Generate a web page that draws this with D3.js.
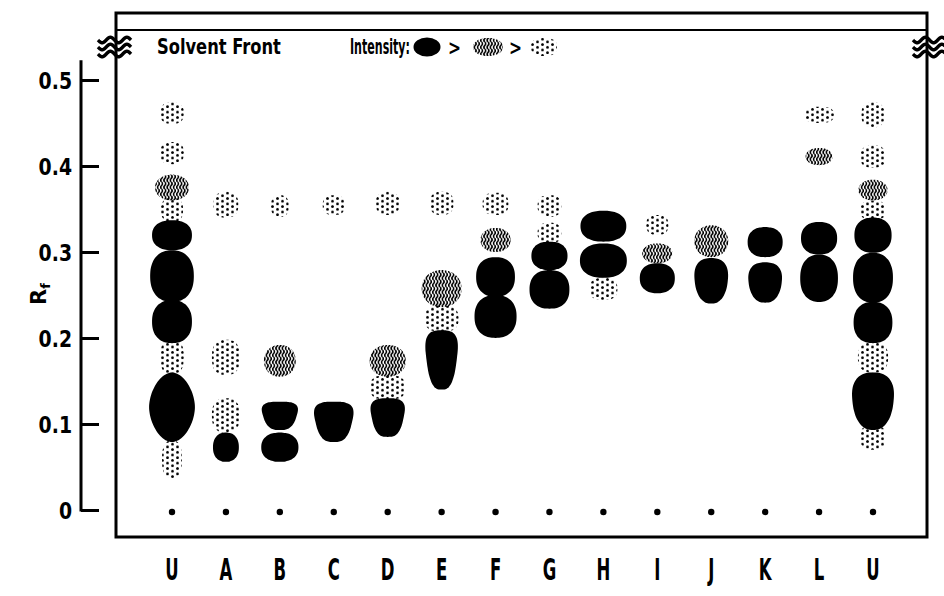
<!DOCTYPE html>
<html>
<head>
<meta charset="utf-8">
<script src="https://cdn.jsdelivr.net/npm/d3@7"></script>
<style>
body { margin: 0; background: #fff; }
text { font-family: "DejaVu Sans", "Liberation Sans", sans-serif; font-weight: bold; fill: #000; }
</style>
</head>
<body>
<svg id="chart" width="944" height="596"></svg>
<script>
// lanes on the plate (U = reference, run on both edges)
const lanes = ["U", "A", "B", "C", "D", "E", "F", "G", "H", "I", "J", "K", "L", "U"];
const yTicks = [0, 0.1, 0.2, 0.3, 0.4, 0.5];

// [lane index, Rf top, Rf bottom, spot breadth in lane widths]
const dottedSpots = [
    [0, 0.474, 0.449, 0.44], [0, 0.428, 0.402, 0.44], [0, 0.363, 0.335, 0.41], [0, 0.198, 0.158, 0.44], [0, 0.081, 0.037, 0.37],
    [1, 0.370, 0.340, 0.46], [1, 0.198, 0.157, 0.52], [1, 0.130, 0.090, 0.52],
    [2, 0.366, 0.341, 0.33],
    [3, 0.366, 0.343, 0.41],
    [4, 0.370, 0.343, 0.44], [4, 0.157, 0.128, 0.67],
    [5, 0.370, 0.343, 0.44], [5, 0.238, 0.207, 0.63],
    [6, 0.369, 0.343, 0.48],
    [7, 0.366, 0.341, 0.44], [7, 0.334, 0.310, 0.44],
    [8, 0.270, 0.244, 0.52],
    [9, 0.343, 0.320, 0.41],
    [12, 0.469, 0.450, 0.56],
    [13, 0.474, 0.445, 0.43], [13, 0.424, 0.398, 0.48], [13, 0.360, 0.337, 0.48], [13, 0.195, 0.160, 0.56], [13, 0.099, 0.070, 0.48]
];

const hatchedSpots = [
    [0, 0.390, 0.360, 0.63],
    [2, 0.192, 0.155, 0.59],
    [4, 0.192, 0.155, 0.67],
    [5, 0.279, 0.236, 0.74],
    [6, 0.328, 0.300, 0.56],
    [9, 0.310, 0.287, 0.56],
    [10, 0.331, 0.294, 0.63],
    [12, 0.421, 0.401, 0.50],
    [13, 0.384, 0.360, 0.54]
];

// last field: outline type
const solidSpots = [
    [0, 0.337, 0.302, 0.74, "round"], [0, 0.302, 0.242, 0.81, "round"], [0, 0.244, 0.194, 0.74, "round"], [0, 0.160, 0.079, 0.85, "egg"],
    [1, 0.090, 0.056, 0.48, "round"],
    [2, 0.126, 0.093, 0.78, "flat"], [2, 0.090, 0.056, 0.69, "round"],
    [3, 0.126, 0.079, 0.85, "flat"],
    [4, 0.130, 0.085, 0.74, "flat"],
    [5, 0.209, 0.140, 0.70, "flat"],
    [6, 0.294, 0.248, 0.72, "round"], [6, 0.250, 0.200, 0.78, "round"],
    [7, 0.312, 0.279, 0.67, "round"], [7, 0.279, 0.234, 0.74, "round"],
    [8, 0.348, 0.312, 0.85, "round"], [8, 0.310, 0.270, 0.87, "round"],
    [9, 0.287, 0.252, 0.65, "round"],
    [10, 0.293, 0.240, 0.70, "soft"],
    [11, 0.329, 0.294, 0.65, "round"], [11, 0.288, 0.241, 0.70, "soft"],
    [12, 0.335, 0.297, 0.67, "round"], [12, 0.297, 0.242, 0.70, "round"],
    [13, 0.340, 0.299, 0.69, "round"], [13, 0.299, 0.241, 0.74, "round"], [13, 0.242, 0.194, 0.72, "round"], [13, 0.160, 0.093, 0.87, "soft"]
];

const svg = d3.select("#chart");

let x = d3.scalePoint().domain(d3.range(lanes.length)).range([172, 873]);
let y = d3.scaleLinear().domain([0, 0.5]).range([510, 80]);
let step = x.step();

// fill patterns
let defs = svg.append("defs");
let dots = defs.append("pattern").attr("id", "dots").attr("patternUnits", "userSpaceOnUse")
    .attr("width", 10).attr("height", 5.4);
dots.append("circle").attr("cx", 2.5).attr("cy", 1.4).attr("r", 1.4);
dots.append("circle").attr("cx", 7.5).attr("cy", 4.1).attr("r", 1.4);

let hatch = defs.append("pattern").attr("id", "hatch").attr("patternUnits", "userSpaceOnUse")
    .attr("width", 3.2).attr("height", 7);
hatch.append("path").attr("d", "M1.6,0 q1.7,1.75 0,3.5 q-1.7,1.75 0,3.5")
    .attr("fill", "none").attr("stroke", "#000").attr("stroke-width", 1.6);

function blob(cx, cy, w, h, shape) {
    let taper = 0, n = 2.3;
    if (shape === "flat") { taper = 0.25; n = 3; }
    if (shape === "soft") { taper = 0.14; n = 2.4; }
    if (shape === "egg") { n = 1.8; }
    if (shape === "dot") { n = 2.6; }
    if (shape === "hatch") { n = 2.1; }
    let pts = d3.range(48).map(function(i) {
        let a = i / 48 * 2 * Math.PI, c = Math.cos(a), s = Math.sin(a);
        let px = Math.sign(c) * Math.pow(Math.abs(c), 2 / n);
        let py = Math.sign(s) * Math.pow(Math.abs(s), 2 / n);
        let k = (1 - taper * py) / (1 + taper);
        return [cx + w / 2 * px * k, cy + h / 2 * py];
    });
    return d3.line().curve(d3.curveCardinalClosed)(pts);
}

function drawSpots(data, fill, shape) {
    svg.append("g").selectAll("path").data(data).enter().append("path")
        .attr("d", function(d) {
            let top = y(d[1]), bot = y(d[2]);
            return blob(x(d[0]), (top + bot) / 2, d[3] * step, bot - top, d[4] || shape);
        })
        .attr("fill", fill);
}

drawSpots(dottedSpots, "url(#dots)", "dot");
drawSpots(hatchedSpots, "url(#hatch)", "hatch");
drawSpots(solidSpots, "#000", "round");

// origin spots
svg.append("g").selectAll("circle").data(lanes).enter().append("circle")
    .attr("cx", function(d, i) { return x(i); })
    .attr("cy", y(0) + 2)
    .attr("r", 3.2);

// plate frame and solvent front line
svg.append("rect").attr("x", 116).attr("y", 13).attr("width", 811).attr("height", 524)
    .attr("fill", "none").attr("stroke", "#000").attr("stroke-width", 3);
svg.append("line").attr("x1", 116).attr("x2", 926).attr("y1", 30).attr("y2", 30)
    .attr("stroke", "#000").attr("stroke-width", 2);

// wavy break marks
function waves(x0, x1, yc) {
    let g = svg.append("g");
    [-7, 0, 7].forEach(function(dy) {
        let pts = d3.range(0, 1.001, 0.05).map(function(t) {
            return [x0 + t * (x1 - x0), yc + dy + 3 * Math.sin(t * 4 * Math.PI)];
        });
        g.append("path").attr("d", d3.line().curve(d3.curveBasis)(pts))
            .attr("fill", "none").attr("stroke", "#000").attr("stroke-width", 3.4);
    });
}
waves(98, 131, 47);
waves(913, 946, 47);

// y axis
let yAxis = d3.axisLeft(y).tickValues(yTicks).tickSizeInner(-18).tickSizeOuter(0).tickPadding(0)
    .tickFormat(function(d) { return d === 0 ? "0" : d3.format(".1f")(d); });
let ga = svg.append("g").attr("transform", "translate(81,0)").call(yAxis);
ga.select(".domain").remove();
ga.selectAll(".tick line").attr("stroke", "#000").attr("stroke-width", 3);
ga.selectAll(".tick text").attr("x", null).attr("dy", "0.36em")
    .attr("transform", "translate(-9,0) scale(0.82,1)")
    .style("font-size", "23px");
ga.append("line").attr("x1", 0).attr("x2", 0).attr("y1", y(0) + 1.5).attr("y2", y(0.523))
    .attr("stroke", "#000").attr("stroke-width", 3);

let rf = svg.append("text").attr("transform", "translate(46,294) rotate(-90)")
    .attr("text-anchor", "middle").style("font-size", "21px");
rf.append("tspan").text("R");
rf.append("tspan").attr("dy", 4).style("font-size", "13px").text("f");

// lane labels
svg.append("g").selectAll("text").data(lanes).enter().append("text")
    .attr("transform", function(d, i) { return "translate(" + x(i) + ",580) scale(0.55,1)"; })
    .attr("text-anchor", "middle")
    .style("font-size", "30px")
    .text(function(d) { return d; });

// legend, squeezed to the narrow lettering of the original
function squeezed(str, x0, y0, width, size) {
    let t = svg.append("text").style("font-size", size + "px").text(str);
    let len = t.node().getComputedTextLength();
    t.attr("transform", "translate(" + x0 + "," + y0 + ") scale(" + (width / len) + ",1)");
    return t;
}
squeezed("Solvent Front", 157, 54, 124, 21);
squeezed("Intensity:", 350, 54, 60, 21);
svg.append("ellipse").attr("cx", 427).attr("cy", 47).attr("rx", 13.5).attr("ry", 9.5);
squeezed(">", 448, 55, 13, 22);
svg.append("path").attr("d", blob(488, 47, 30, 18, "hatch")).attr("fill", "url(#hatch)");
squeezed(">", 509, 55, 13, 22);
svg.append("path").attr("d", blob(544, 47, 26, 18, "dot")).attr("fill", "url(#dots)");
</script>
</body>
</html>
